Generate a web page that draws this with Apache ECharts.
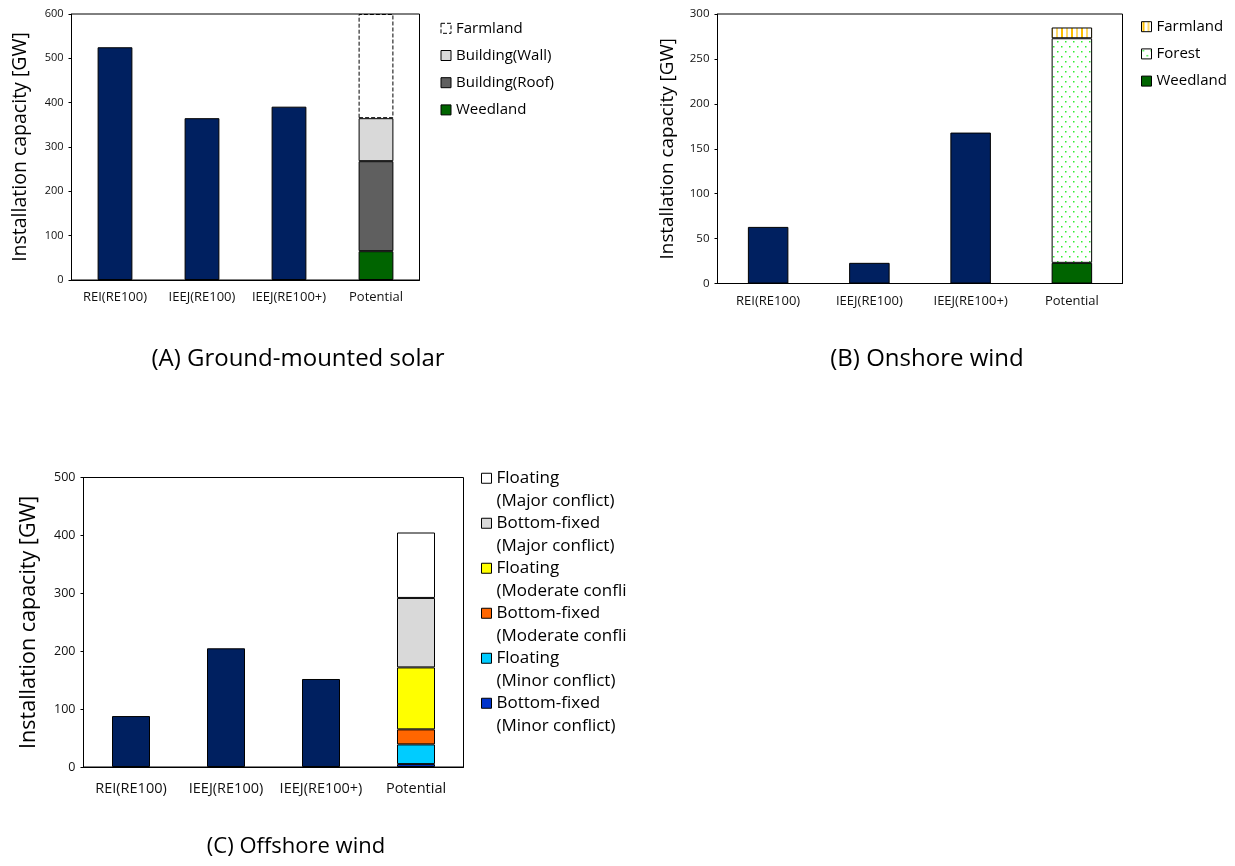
<!DOCTYPE html>
<html>
<head>
<meta charset="utf-8">
<script src="https://cdn.jsdelivr.net/npm/echarts@6/dist/echarts.min.js"></script>
<style>
html,body{margin:0;padding:0;background:#fff;}
#chart{width:1235px;height:866px;}
</style>
</head>
<body>
<div id="chart"></div>
<script>
// ---------- data ----------
const categories = ['REI(RE100)', 'IEEJ(RE100)', 'IEEJ(RE100+)', 'Potential'];

// (A) Ground-mounted solar
const solarScenarios = [525, 365, 391, '-'];
const solarWeedland = ['-', '-', '-', 65];
const solarRoof = ['-', '-', '-', 203];
const solarWall = ['-', '-', '-', 97];
const solarFarmland = ['-', '-', '-', 235];

// (B) Onshore wind
const windScenarios = [63, 23, 168, '-'];
const windWeedland = ['-', '-', '-', 23];
const windForest = ['-', '-', '-', 250];
const windFarmland = ['-', '-', '-', 12];

// (C) Offshore wind
const offScenarios = [88, 205, 152, '-'];
const offBottomMinor = ['-', '-', '-', 5];
const offFloatMinor = ['-', '-', '-', 34];
const offBottomModerate = ['-', '-', '-', 26];
const offFloatModerate = ['-', '-', '-', 107];
const offBottomMajor = ['-', '-', '-', 120];
const offFloatMajor = ['-', '-', '-', 113];

const yAxisName = 'Installation capacity [GW]';
const titles = ['(A) Ground-mounted solar', '(B) Onshore wind', '(C) Offshore wind'];

// ---------- patterns ----------
function forestPattern() {
  const c = document.createElement('canvas');
  c.width = 8; c.height = 10;
  const ctx = c.getContext('2d');
  ctx.fillStyle = '#ffffff'; ctx.fillRect(0, 0, 8, 10);
  ctx.fillStyle = '#33ee33';
  ctx.fillRect(1, 1, 1.5, 1.5);
  ctx.fillRect(5, 6, 1.5, 1.5);
  return c;
}
function farmPattern() {
  const c = document.createElement('canvas');
  c.width = 10; c.height = 4;
  const ctx = c.getContext('2d');
  ctx.fillStyle = '#ffffff'; ctx.fillRect(0, 0, 10, 4);
  ctx.fillStyle = '#ffc000'; ctx.fillRect(1, 0, 2, 4);
  ctx.fillStyle = '#ffd966'; ctx.fillRect(6, 0, 2, 4);
  return c;
}
const forestFill = { image: forestPattern(), repeat: 'repeat' };
const farmFill = { image: farmPattern(), repeat: 'repeat' };

const FONT = 'Open Sans';
const NAVY = '#002060';
const border = { borderColor: '#000', borderWidth: 1 };

function bar(name, data, gi, color, extra) {
  return {
    type: 'bar', name: name, data: data, stack: 's' + gi,
    xAxisIndex: gi, yAxisIndex: gi, barWidth: '40%',
    itemStyle: Object.assign({ color: color }, border, extra || {}),
    emphasis: { disabled: true }, animation: false
  };
}

const grids = [
  { left: 71.5, top: 14, width: 348, height: 266 },
  { left: 717.5, top: 14, width: 405, height: 269.5 },
  { left: 83.5, top: 477.5, width: 380, height: 289.5 }
];

const yMax = [600, 300, 500];
const yInt = [100, 50, 100];
const yFont = [11, 11.5, 12.5];
const xFont = [13, 13, 14.5];
const xMargin = [11, 11.5, 14];
const nameFont = [19.5, 18.8, 21.5];
const nameGap = [41, 40.5, 43.5];

const legItem = (n, extra) => ({ name: n, itemStyle: Object.assign({ borderColor: '#000', borderWidth: 1 }, extra || {}) });

const option = {
  backgroundColor: '#fff',
  animation: false,
  textStyle: { fontFamily: FONT },
  title: [
    { text: titles[0], left: 298, top: 347, textAlign: 'center', padding: 0, textStyle: { fontFamily: FONT, fontSize: 24, fontWeight: 'normal', color: '#000' } },
    { text: titles[1], left: 927, top: 347, textAlign: 'center', padding: 0, textStyle: { fontFamily: FONT, fontSize: 24, fontWeight: 'normal', color: '#000' } },
    { text: titles[2], left: 296, top: 836, textAlign: 'center', padding: 0, textStyle: { fontFamily: FONT, fontSize: 22, fontWeight: 'normal', color: '#000' } }
  ],
  grid: grids.map(g => Object.assign({ show: true, borderColor: '#000', borderWidth: 1, backgroundColor: '#fff' }, g)),
  xAxis: [0, 1, 2].map(i => ({
    type: 'category', gridIndex: i, data: categories,
    axisLine: { lineStyle: { color: '#000' } },
    axisTick: { show: false },
    axisLabel: { interval: 0, color: '#111', fontFamily: FONT, fontSize: xFont[i], margin: xMargin[i] }
  })),
  yAxis: [0, 1, 2].map(i => ({
    type: 'value', gridIndex: i, min: 0, max: yMax[i], interval: yInt[i],
    name: yAxisName, nameLocation: 'middle', nameRotate: 90, nameGap: nameGap[i],
    nameTextStyle: { fontFamily: FONT, fontSize: nameFont[i], color: '#000' },
    axisLine: { show: true, lineStyle: { color: '#000' } },
    axisTick: { show: true, length: 3, lineStyle: { color: '#000' } },
    splitLine: { show: false },
    axisLabel: { color: '#111', fontFamily: FONT, fontSize: yFont[i], margin: 8 }
  })),
  legend: [
    {
      left: 440.5, top: 19.8, orient: 'vertical', padding: 0, itemWidth: 10, itemHeight: 10, itemGap: 10.2,
      icon: 'rect', selectedMode: false,
      formatter: n => n.slice(2),
      textStyle: { fontFamily: FONT, fontSize: 15, color: '#000', lineHeight: 17 },
      data: [
        legItem('A:Farmland', { color: '#fff', borderType: 'dashed' }),
        legItem('A:Building(Wall)'),
        legItem('A:Building(Roof)'),
        legItem('A:Weedland')
      ]
    },
    {
      left: 1141, top: 18.2, orient: 'vertical', padding: 0, itemWidth: 10, itemHeight: 10, itemGap: 10.2,
      icon: 'rect', selectedMode: false,
      formatter: n => n.slice(2),
      textStyle: { fontFamily: FONT, fontSize: 15, color: '#000', lineHeight: 17 },
      data: [legItem('B:Farmland'), legItem('B:Forest'), legItem('B:Weedland')]
    },
    {
      left: 481, top: 444.5, orient: 'vertical', padding: 0, itemWidth: 10, itemHeight: 10, itemGap: -22.5,
      icon: 'rect', selectedMode: false,
      // empty first line keeps the swatch level with the first text line
      formatter: n => '\n' + n.slice(2),
      textStyle: { fontFamily: FONT, fontSize: 17, color: '#000', lineHeight: 22.5, width: 135, overflow: 'truncate', ellipsis: '' },
      data: [
        legItem('C:Floating\n(Major conflict)'),
        legItem('C:Bottom-fixed\n(Major conflict)'),
        legItem('C:Floating\n(Moderate conflict)'),
        legItem('C:Bottom-fixed\n(Moderate conflict)'),
        legItem('C:Floating\n(Minor conflict)'),
        legItem('C:Bottom-fixed\n(Minor conflict)')
      ]
    }
  ],
  series: [
    bar('A:Scenario', solarScenarios, 0, NAVY),
    bar('A:Weedland', solarWeedland, 0, '#006400'),
    bar('A:Building(Roof)', solarRoof, 0, '#5f5f5f'),
    bar('A:Building(Wall)', solarWall, 0, '#d9d9d9'),
    bar('A:Farmland', solarFarmland, 0, 'rgba(255,255,255,0)', { borderType: 'dashed' }),

    bar('B:Scenario', windScenarios, 1, NAVY),
    bar('B:Weedland', windWeedland, 1, '#006400'),
    bar('B:Forest', windForest, 1, forestFill),
    bar('B:Farmland', windFarmland, 1, farmFill),

    bar('C:Scenario', offScenarios, 2, NAVY),
    bar('C:Bottom-fixed\n(Minor conflict)', offBottomMinor, 2, '#0033cc'),
    bar('C:Floating\n(Minor conflict)', offFloatMinor, 2, '#00ccff'),
    bar('C:Bottom-fixed\n(Moderate conflict)', offBottomModerate, 2, '#ff6600'),
    bar('C:Floating\n(Moderate conflict)', offFloatModerate, 2, '#ffff00'),
    bar('C:Bottom-fixed\n(Major conflict)', offBottomMajor, 2, '#d9d9d9'),
    bar('C:Floating\n(Major conflict)', offFloatMajor, 2, '#ffffff')
  ]
};

const chart = echarts.init(document.getElementById('chart'), null, { renderer: 'canvas' });
chart.setOption(option);
</script>
</body>
</html>
